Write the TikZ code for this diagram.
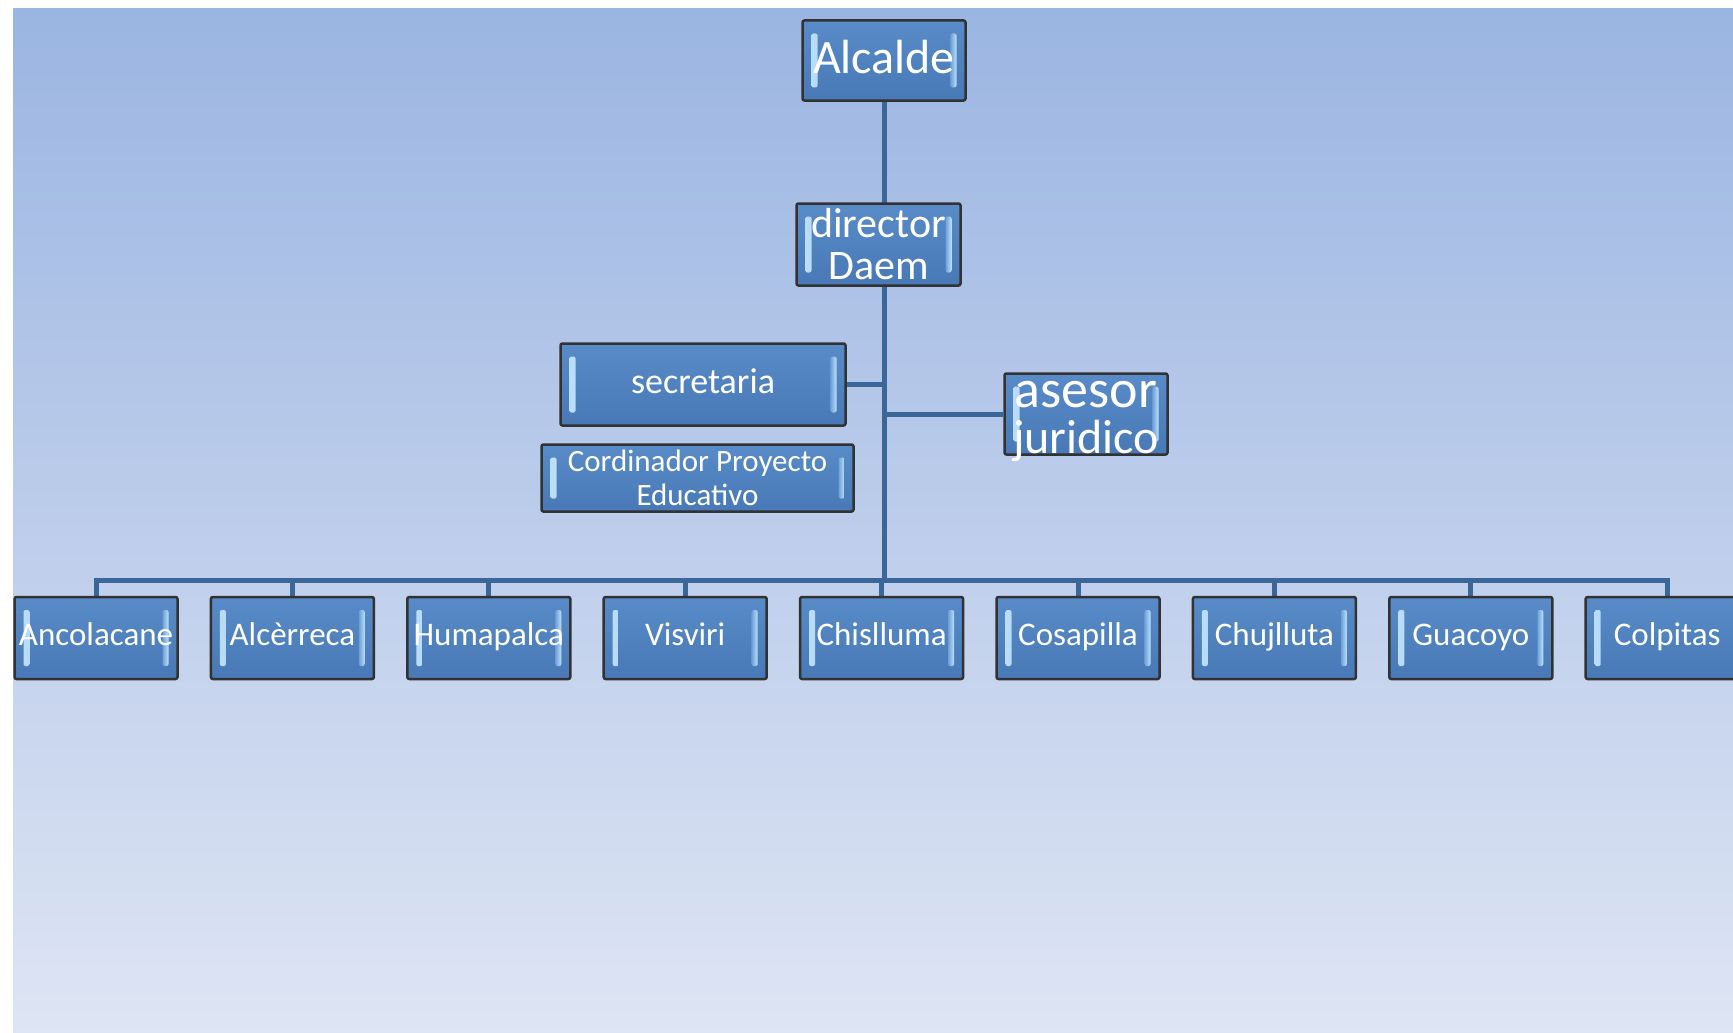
\documentclass[tikz,border=0pt]{standalone}
\usepackage{fontspec}
\setmainfont{Carlito}
\usetikzlibrary{calc}
\definecolor{bgtop}{RGB}{155,181,226}
\definecolor{bgbot}{RGB}{222,229,244}
\definecolor{linecol}{RGB}{58,102,152}
\definecolor{boxfill}{RGB}{79,129,189}
\definecolor{boxtop}{RGB}{88,139,199}
\definecolor{boxbot}{RGB}{72,121,182}
\definecolor{barlight}{RGB}{190,225,250}
\definecolor{bardark}{RGB}{110,160,215}
\definecolor{edgecol}{RGB}{50,50,50}
\pgfdeclarelayer{bg}
\pgfdeclarelayer{lines}
\pgfsetlayers{bg,lines,main}
\tikzset{
  orgbox/.style={draw=edgecol, line width=2.5pt, rounded corners=2pt,
    top color=boxtop, bottom color=boxbot, text=white, inner sep=0pt, align=center,
    path picture={
      \shade[left color=barlight, right color=bardark]
        ([xshift=9pt,yshift=-13pt]path picture bounding box.north west)
        rectangle ([xshift=15pt,yshift=13pt]path picture bounding box.south west);
      \shade[left color=bardark, right color=barlight]
        ([xshift=-15pt,yshift=-13pt]path picture bounding box.north east)
        rectangle ([xshift=-9pt,yshift=13pt]path picture bounding box.south east);
    }},
  leaf/.style={orgbox, minimum width=163pt, minimum height=82pt,
    font=\fontsize{33}{36}\selectfont, text height=22pt, text depth=7pt},
  conn/.style={draw=linecol, line width=5pt},
}
\begin{document}
\begin{tikzpicture}[x=1pt,y=-1pt]
\useasboundingbox (0,0) rectangle (1733,1033);
\clip (0,0) rectangle (1733,1033);
\begin{pgfonlayer}{bg}
  \shade[top color=bgtop, bottom color=bgbot] (13,9) rectangle (1733,1033);
\end{pgfonlayer}

\node[orgbox, minimum width=163pt, minimum height=80pt,
  font=\fontsize{48}{50}\selectfont, text height=33pt, text depth=7pt] (alc) at (884,60.5) {Alcalde};
\node[orgbox, minimum width=164pt, minimum height=82pt,
  font=\fontsize{42}{42}\selectfont] (dir) at (878.5,244.5) {director\\Daem};
\node[orgbox, minimum width=285pt, minimum height=82pt,
  font=\fontsize{36}{40}\selectfont, text height=25pt, text depth=8pt] (sec) at (703,384.5) {secretaria};
\node[orgbox, minimum width=312pt, minimum height=67pt,
  font=\fontsize{31}{34}\selectfont] (cor) at (697.5,478) {Cordinador Proyecto\\Educativo};
\node[orgbox, minimum width=163pt, minimum height=81pt] (ase) at (1086,414) {};
\node[text=white, align=center, inner sep=0pt, font=\fontsize{54}{46}\selectfont]
  (asetxt) at ($(ase.center)+(0,7)$)
  {asesor\\\fontsize{48}{46}\selectfont juridico};

\node[leaf] (b0) at (96,638) {Ancolacane};
\node[leaf] (b1) at (292.4,638) {Alcèrreca};
\node[leaf] (b2) at (488.8,638) {Humapalca};
\node[leaf] (b3) at (685.2,638) {Visviri};
\node[leaf] (b4) at (881.6,638) {Chislluma};
\node[leaf] (b5) at (1078,638) {Cosapilla};
\node[leaf] (b6) at (1274.4,638) {Chujlluta};
\node[leaf] (b7) at (1470.8,638) {Guacoyo};
\node[leaf] (b8) at (1667.2,638) {Colpitas};

\coordinate (bus) at (884,580);
\begin{pgfonlayer}{lines}
  \draw[conn] (alc.south) -- (bus);
  \draw[conn] (sec.east) -- (sec.east -| alc.south);
  \draw[conn] (ase.west) -- (ase.west -| alc.south);
  \draw[conn, line cap=rect] (b0.north |- bus) -- (b8.north |- bus);
  \foreach \i in {0,...,8} {
    \draw[conn] (b\i.north) -- (b\i.north |- bus);
  }
\end{pgfonlayer}
\end{tikzpicture}
\end{document}
